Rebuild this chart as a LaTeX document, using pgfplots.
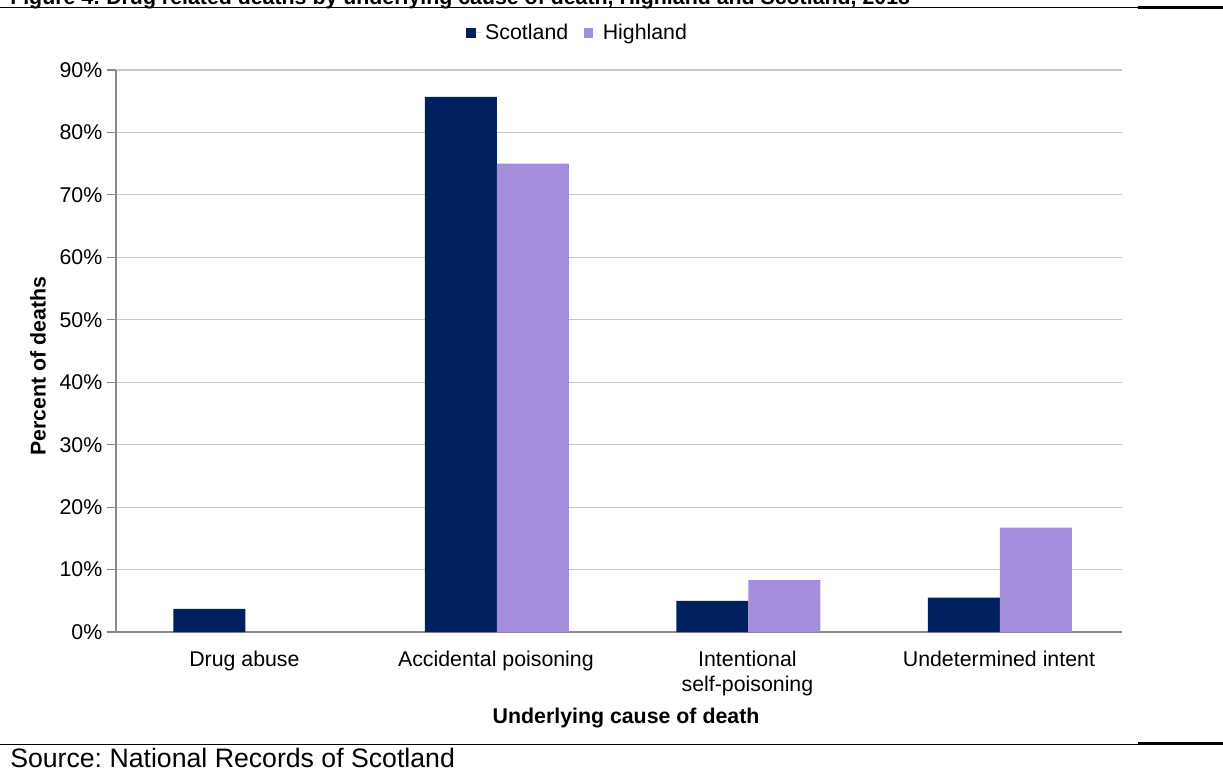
\documentclass[border=0pt]{standalone}
\usepackage{pgfplots}
\pgfplotsset{compat=1.18}
\usepackage{pgfplotstable}
\usepackage{fontspec}
\setmainfont{Liberation Sans}
\frenchspacing

\definecolor{scotnavy}{HTML}{002060}
\definecolor{highlav}{HTML}{A48EDC}
\definecolor{gridgrey}{HTML}{C8C8C8}
\definecolor{axisgrey}{HTML}{888888}

% Percent of drug related deaths by underlying cause
\pgfplotstableread{
x scot high
0 3.7  0
1 85.7 75.0
2 5.0  8.3
3 5.5  16.7
}\causes

\begin{document}
\begin{tikzpicture}
\useasboundingbox (0pt,0pt) rectangle (917.25pt,576.75pt);
\clip (0pt,0pt) rectangle (917.25pt,576.75pt);

% figure caption (top edge) and rules
\node[anchor=base west,inner sep=0pt,font=\fontsize{16}{19}\selectfont\bfseries]
  at (7.5pt,573pt) {Figure 4: Drug related deaths by underlying cause of death, Highland and Scotland, 2018};
\draw[line width=0.75pt] (0pt,570.75pt) -- (853.5pt,570.75pt);
\draw[line width=2pt] (853.5pt,571.1pt) -- (917.25pt,571.1pt);
\draw[line width=0.75pt] (0pt,18.75pt) -- (853.5pt,18.75pt);
\draw[line width=2pt] (853.5pt,19.1pt) -- (917.25pt,19.1pt);
\node[anchor=base west,inner sep=0pt,font=\fontsize{20}{24}\selectfont]
  at (7.5pt,1.5pt) {Source: National Records of Scotland};

\begin{axis}[
  at={(87pt,102.75pt)}, anchor=south west,
  scale only axis,
  width=754.5pt, height=421.5pt,
  xmin=-0.5, xmax=3.5,
  ymin=0, ymax=90,
  axis lines=left,
  axis line style={draw=axisgrey, line width=0.8pt, -},
  xtick={0,1,2,3},
  xticklabels={Drug abuse, Accidental poisoning, {Intentional\\self-poisoning}, Undetermined intent},
  x tick label style={align=center, yshift=-4pt, xshift=2pt},
  major x tick style={draw=none},
  extra x ticks={-0.5,0.5,1.5,2.5,3.5},
  extra x tick labels={},
  extra x tick style={major tick length=6.75pt, tick align=outside, tick style={draw=axisgrey, line width=0.8pt}, grid=none},
  ytick={0,10,...,90},
  yticklabel={\pgfmathprintnumber{\tick}\%},
  tick align=outside,
  major tick length=6.75pt,
  y tick style={draw=axisgrey, line width=0.8pt},
  ymajorgrids,
  grid style={draw=gridgrey, line width=0.8pt},
  /pgf/number format/assume math mode=true,
  ticklabel style={font=\fontsize{16}{19}\selectfont},
  xlabel={Underlying cause of death},
  xlabel style={at={(axis description cs:0.507,-0.153)}, anchor=center, font=\fontsize{16}{19}\selectfont\bfseries},
  ylabel={Percent of deaths},
  ylabel style={at={(axis description cs:-0.0775,0.473)}, anchor=center, rotate=0, font=\fontsize{16}{19}\selectfont\bfseries},
  ybar,
  bar width=0.2863,
  legend columns=2,
  legend style={at={(axis description cs:0.46,1.066)}, anchor=center, draw=none, fill=none,
    font=\fontsize{16}{19}\selectfont,
    nodes={inner xsep=3.2pt},
    /tikz/every even column/.append style={column sep=8.5pt}},
  legend image code/.code={%
    \path[#1,draw=none] (0pt,-3.6pt) rectangle (7.2pt,3.6pt);
    \path (7.2pt,0pt) -- (11pt,0pt);},
]
\addplot[fill=scotnavy, draw=none, bar shift=-0.1292] table[x=x,y=scot] {\causes};
\addplot[fill=highlav, draw=none, bar shift=0.1571] table[x=x,y=high] {\causes};
\legend{Scotland, Highland}
\end{axis}
\end{tikzpicture}
\end{document}
